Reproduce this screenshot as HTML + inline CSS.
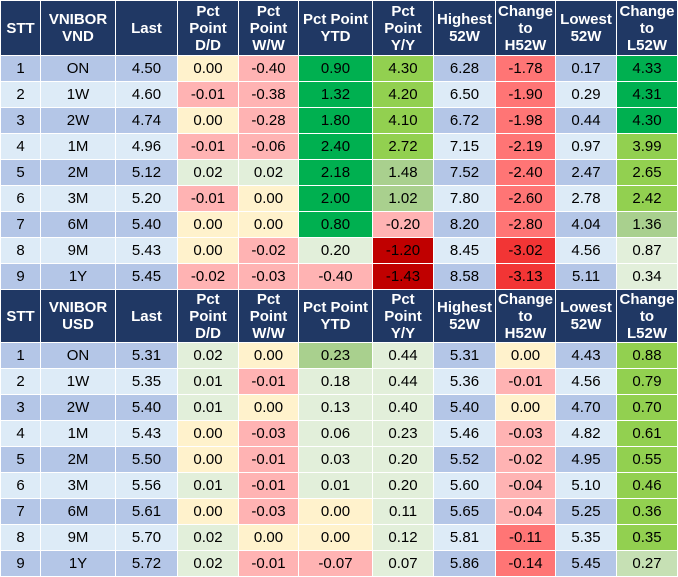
<!DOCTYPE html>
<html><head><meta charset="utf-8"><style>
body{margin:0;width:678px;height:576px;background:#fff;overflow:hidden;font-family:"Liberation Sans",Arial,sans-serif}
table{border-collapse:collapse;table-layout:fixed;width:677px;position:absolute;left:0}
td,th{border:1px solid #fff;text-align:center;padding:0;font-size:15px;color:#000;overflow:hidden;white-space:nowrap}
th{background:#203864;color:#fff;font-weight:bold;line-height:17px;font-size:15px}
tr.h1{height:55px} tr.h2{height:53px} tr.r{height:26px}
.b1{background:#B4C6E7}.b2{background:#DDEBF7}
.Y{background:#FFF2CC}.P{background:#FFB3B3}.R{background:#FF7575}.RR{background:#F23535}.DR{background:#C00000}
.G{background:#00B050}.LG{background:#92D050}.MG{background:#A9D08E}.PG{background:#E2EFDA}.VG{background:#C6E0B4}
</style></head><body>
<table id="t1" style="top:0">
<colgroup><col style="width:40px"><col style="width:75px"><col style="width:62px"><col style="width:61px"><col style="width:60px"><col style="width:74px"><col style="width:61px"><col style="width:62px"><col style="width:60px"><col style="width:61px"><col style="width:61px"></colgroup>
<tbody></tbody></table>
<table id="t2" style="top:289px">
<colgroup><col style="width:40px"><col style="width:75px"><col style="width:62px"><col style="width:61px"><col style="width:60px"><col style="width:74px"><col style="width:61px"><col style="width:62px"><col style="width:60px"><col style="width:61px"><col style="width:61px"></colgroup>
<tbody></tbody></table>
<script>
const tenors=["ON","1W","2W","1M","2M","3M","6M","9M","1Y"];
const vndLast=["4.50","4.60","4.74","4.96","5.12","5.20","5.40","5.43","5.45"];
const vndDD=["0.00","-0.01","0.00","-0.01","0.02","-0.01","0.00","0.00","-0.02"];
const vndDDc=["Y","P","Y","P","PG","P","Y","Y","P"];
const vndWW=["-0.40","-0.38","-0.28","-0.06","0.02","0.00","0.00","-0.02","-0.03"];
const vndWWc=["P","P","P","P","PG","Y","Y","P","P"];
const vndYTD=["0.90","1.32","1.80","2.40","2.18","2.00","0.80","0.20","-0.40"];
const vndYTDc=["G","G","G","G","G","G","G","PG","P"];
const vndYY=["4.30","4.20","4.10","2.72","1.48","1.02","-0.20","-1.20","-1.43"];
const vndYYc=["LG","LG","LG","LG","MG","MG","P","DR","DR"];
const vndHi=["6.28","6.50","6.72","7.15","7.52","7.80","8.20","8.45","8.58"];
const vndCH=["-1.78","-1.90","-1.98","-2.19","-2.40","-2.60","-2.80","-3.02","-3.13"];
const vndCHc=["R","R","R","R","R","R","R","RR","RR"];
const vndLo=["0.17","0.29","0.44","0.97","2.47","2.78","4.04","4.56","5.11"];
const vndCL=["4.33","4.31","4.30","3.99","2.65","2.42","1.36","0.87","0.34"];
const vndCLc=["G","G","G","LG","LG","LG","MG","PG","PG"];
const usdLast=["5.31","5.35","5.40","5.43","5.50","5.56","5.61","5.70","5.72"];
const usdDD=["0.02","0.01","0.01","0.00","0.00","0.01","0.00","0.02","0.02"];
const usdDDc=["PG","PG","PG","Y","Y","PG","Y","PG","PG"];
const usdWW=["0.00","-0.01","0.00","-0.03","-0.01","-0.01","-0.03","0.00","-0.01"];
const usdWWc=["Y","P","Y","P","P","P","P","Y","P"];
const usdYTD=["0.23","0.18","0.13","0.06","0.03","0.01","0.00","0.00","-0.07"];
const usdYTDc=["MG","PG","PG","PG","PG","PG","Y","Y","P"];
const usdYY=["0.44","0.44","0.40","0.23","0.20","0.20","0.11","0.12","0.07"];
const usdYYc=["PG","PG","PG","PG","PG","PG","PG","PG","PG"];
const usdHi=["5.31","5.36","5.40","5.46","5.52","5.60","5.65","5.81","5.86"];
const usdCH=["0.00","-0.01","0.00","-0.03","-0.02","-0.04","-0.04","-0.11","-0.14"];
const usdCHc=["Y","P","Y","P","P","P","P","R","R"];
const usdLo=["4.43","4.56","4.70","4.82","4.95","5.10","5.25","5.35","5.45"];
const usdCL=["0.88","0.79","0.70","0.61","0.55","0.46","0.36","0.35","0.27"];
const usdCLc=["LG","LG","LG","LG","LG","LG","LG","LG","VG"];

function build(id,cur,hcls,last,dd,ddc,ww,wwc,ytd,ytdc,yy,yyc,hi,ch,chc,lo,cl,clc){
  const tb=document.querySelector('#'+id+' tbody');
  const heads=["STT","VNIBOR<br>"+cur,"Last","Pct<br>Point<br>D/D","Pct<br>Point<br>W/W","Pct Point<br>YTD","Pct<br>Point<br>Y/Y","Highest<br>52W","Change<br>to<br>H52W","Lowest<br>52W","Change<br>to<br>L52W"];
  const hn=["stt","vnibor","last","pct-dd","pct-ww","pct-ytd","pct-yy","highest-52w","change-h52w","lowest-52w","change-l52w"];
  const htr=document.createElement('tr');htr.className=hcls;
  
  
  heads.forEach((h,i)=>{const th=document.createElement('th');th.innerHTML=h;
    
    
    htr.appendChild(th);});
  tb.appendChild(htr);
  for(let r=0;r<9;r++){
    const tr=document.createElement('tr');tr.className='r';
    
    
    const b=r%2===0?'b1':'b2';
    const cells=[[String(r+1),b],[tenors[r],b],[last[r],b],[dd[r],ddc[r]],[ww[r],wwc[r]],[ytd[r],ytdc[r]],[yy[r],yyc[r]],[hi[r],b],[ch[r],chc[r]],[lo[r],b],[cl[r],clc[r]]];
    cells.forEach((c,i)=>{const td=document.createElement('td');td.textContent=c[0];td.className=c[1];
      
      
      tr.appendChild(td);});
    tb.appendChild(tr);
  }
}
build('t1','VND','h1',vndLast,vndDD,vndDDc,vndWW,vndWWc,vndYTD,vndYTDc,vndYY,vndYYc,vndHi,vndCH,vndCHc,vndLo,vndCL,vndCLc);
build('t2','USD','h2',usdLast,usdDD,usdDDc,usdWW,usdWWc,usdYTD,usdYTDc,usdYY,usdYYc,usdHi,usdCH,usdCHc,usdLo,usdCL,usdCLc);
</script>
</body></html>
